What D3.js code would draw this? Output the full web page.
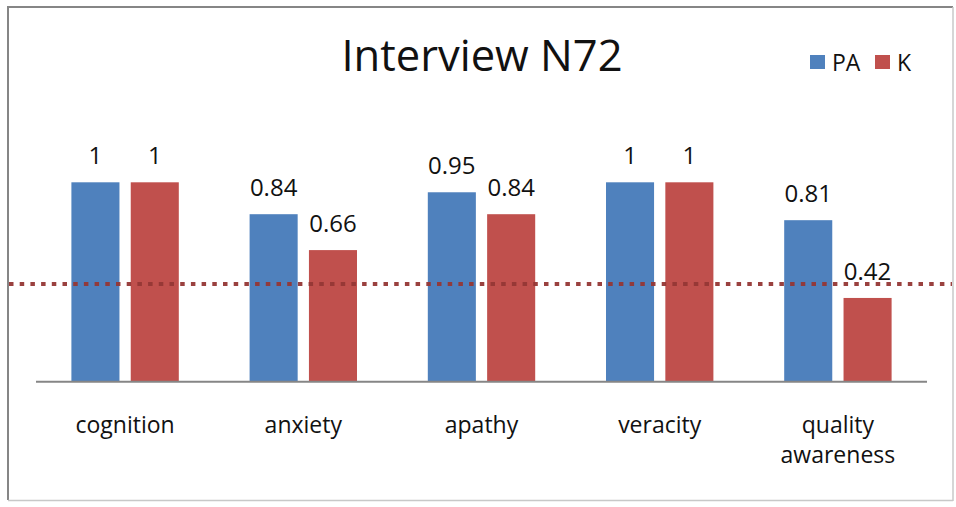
<!DOCTYPE html>
<html><head><meta charset="utf-8">
<script src="https://cdn.jsdelivr.net/npm/d3@7"></script>
<style>body{margin:0;background:#fff}svg{display:block;font-family:"Open Sans",sans-serif}</style>
</head><body><svg id="c" width="956" height="507"></svg>
<script>
const categories = ["cognition","anxiety","apathy","veracity","quality awareness"];
const seriesNames = ["PA","K"];
const paValues = [1,0.84,0.95,1,0.81];
const kValues = [1,0.66,0.84,1,0.42];
const thresholdValue = 0.49;
const colors = ["#4F81BD","#C0504D"];

const svg = d3.select("#c");
// frame
svg.append("line").attr("x1",8).attr("x2",8).attr("y1",7).attr("y2",500).attr("stroke","#868686").attr("stroke-width",2);
svg.append("line").attr("x1",7).attr("x2",953).attr("y1",7).attr("y2",7).attr("stroke","#868686").attr("stroke-width",2);
svg.append("line").attr("x1",953).attr("x2",953).attr("y1",7).attr("y2",501).attr("stroke","#c8c8c8").attr("stroke-width",1.5);
svg.append("line").attr("x1",8).attr("x2",953).attr("y1",500.5).attr("y2",500.5).attr("stroke","#c8c8c8").attr("stroke-width",1.5);

const x0 = d3.scaleBand().domain(categories).range([36,927]).paddingInner(0).paddingOuter(0);
const x1 = d3.scaleBand().domain(seriesNames).range([35.4, 178.2-35.4]).paddingInner(0.19);
const y = d3.scaleLinear().domain([0,1]).range([381.7,182.3]);

const data = categories.map((c,i)=>({cat:c, vals:[{s:"PA",v:paValues[i]},{s:"K",v:kValues[i]}]}));
const g = svg.append("g");
const grp = g.selectAll("g.grp").data(data).join("g").attr("transform",d=>`translate(${x0(d.cat)},0)`);
grp.selectAll("rect").data(d=>d.vals).join("rect")
  .attr("x",d=>x1(d.s)).attr("width",x1.bandwidth())
  .attr("y",d=>y(d.v)).attr("height",d=>y(0)-y(d.v))
  .attr("fill",(d,i)=>colors[i]);
grp.selectAll("text.val").data(d=>d.vals).join("text").attr("class","val")
  .attr("x",d=>x1(d.s)+x1.bandwidth()/2).attr("y",d=>y(d.v)-18)
  .attr("text-anchor","middle").attr("font-size",24).attr("fill","#111")
  .text(d=>d3.format("")(d.v));

// baseline axis
svg.append("line").attr("x1",36).attr("x2",927).attr("y1",381.7).attr("y2",381.7).attr("stroke","#868686").attr("stroke-width",2);

// threshold dotted line
svg.append("line").attr("x1",9).attr("x2",952).attr("y1",y(thresholdValue)).attr("y2",y(thresholdValue))
  .attr("stroke","#953735").attr("stroke-width",4).attr("stroke-dasharray","4.5,6.2").attr("opacity",0.95);

// category labels
const cl = svg.selectAll("text.cat").data(categories).join("text").attr("class","cat")
  .attr("x",d=>x0(d)+x0.bandwidth()/2).attr("y",433).attr("text-anchor","middle")
  .attr("font-size",23).attr("fill","#111");
cl.each(function(d){
  const words = d.split(" ");
  const t = d3.select(this);
  words.forEach((w,i)=>t.append("tspan").attr("x",x0(d)+x0.bandwidth()/2).attr("dy",i?30:0).text(w));
});

// title
svg.append("text").attr("x",482).attr("y",71).attr("text-anchor","middle").attr("font-size",43.5).attr("fill","#111").text("Interview N72");

// legend
const leg = [{n:"PA",x:810},{n:"K",x:875}];
leg.forEach((l,i)=>{
  svg.append("rect").attr("x",l.x).attr("y",55).attr("width",15).attr("height",14).attr("fill",colors[i]);
  svg.append("text").attr("x",l.x+22).attr("y",71).attr("font-size",23).attr("fill","#111").text(l.n);
});
</script></body></html>
